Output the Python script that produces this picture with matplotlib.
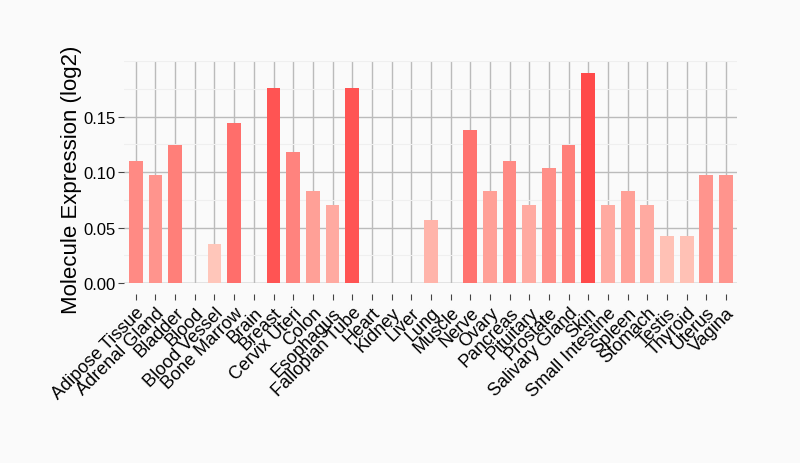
import numpy as np
import matplotlib
matplotlib.use("Agg")
import matplotlib.pyplot as plt
from matplotlib.colors import LinearSegmentedColormap
from matplotlib.ticker import MultipleLocator

plt.rcParams['font.family'] = ['Liberation Sans', 'DejaVu Sans']

tissues = ["Adipose Tissue", "Adrenal Gland", "Bladder", "Blood", "Blood Vessel",
           "Bone Marrow", "Brain", "Breast", "Cervix Uteri", "Colon", "Esophagus",
           "Fallopian Tube", "Heart", "Kidney", "Liver", "Lung", "Muscle", "Nerve",
           "Ovary", "Pancreas", "Pituitary", "Prostate", "Salivary Gland", "Skin",
           "Small Intestine", "Spleen", "Stomach", "Testis", "Thyroid", "Uterus",
           "Vagina"]
expression = [0.110, 0.097, 0.124, 0.0, 0.035,
              0.144, 0.0, 0.176, 0.118, 0.083, 0.070,
              0.176, 0.0, 0.0, 0.0, 0.057, 0.0, 0.138,
              0.083, 0.110, 0.070, 0.104, 0.124, 0.189,
              0.070, 0.083, 0.070, 0.042, 0.042, 0.097,
              0.097]

# light salmon -> red, by value
cmap = LinearSegmentedColormap.from_list("expr", ["#ffc6ba", "#ff4a4a"])
vals = np.array(expression)
lo, hi = 0.035, vals.max()
colors = [cmap((v - lo) / (hi - lo)) for v in vals]

fig = plt.figure(figsize=(8, 4.64), dpi=100, facecolor="#fafafa")
ax = fig.add_axes([0.155, 0.388, 0.766, 0.478])
ax.set_facecolor("#fafafa")

# spine offset first (it resets the ticks)
ax.spines["bottom"].set_position(("outward", 8))
for s in ["top", "right", "left", "bottom"]:
    ax.spines[s].set_visible(False)

x = np.arange(len(tissues))
ax.bar(x, vals, width=0.7, color=colors, zorder=3)
ax.axhline(0, color="#bbbbbb", linewidth=1.0, zorder=2)

ax.set_xlim(-0.6, len(tissues) - 0.45)
ax.set_ylim(0, 0.2)
ax.yaxis.set_minor_locator(MultipleLocator(0.025))
ax.set_yticks([0, 0.05, 0.10, 0.15])
ax.set_yticklabels(["0.00", "0.05", "0.10", "0.15"])

ax.grid(axis="y", which="major", color="#bbbbbb", linewidth=1.0, zorder=0)
ax.grid(axis="y", which="minor", color="#efefef", linewidth=0.8, zorder=0)
ax.grid(axis="x", which="major", color="#bbbbbb", linewidth=1.0, zorder=0)

ax.set_xticks(x)
ax.set_xticklabels(tissues, rotation=45, ha="right", rotation_mode="anchor", fontsize=13)
ax.tick_params(axis="x", length=4, pad=3, color="#444444", direction="out")
ax.tick_params(axis="y", labelsize=12, length=4, color="#444444", pad=2)
ax.tick_params(which="minor", left=False)

ax.set_ylabel("Molecule Expression (log2)", fontsize=16)
ax.yaxis.set_label_coords(-0.068, 0.47)

fig.savefig("out.png", dpi=100, facecolor=fig.get_facecolor())
